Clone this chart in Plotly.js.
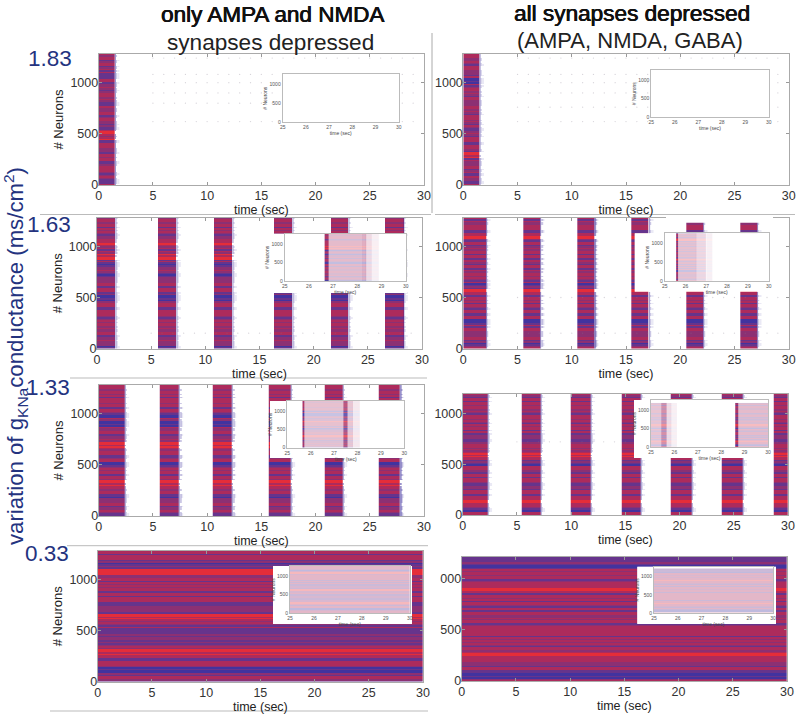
<!DOCTYPE html>
<html><head><meta charset="utf-8">
<script src="https://cdn.plot.ly/plotly-3.0.1.min.js"></script>
<style>html,body{margin:0;padding:0;background:#fff}</style></head>
<body><div id="chart" style="width:797px;height:714px"></div>
<script>
// ---------- data ----------
const panelNames = ['L1','L2','L3','L4','R1','R2','R3','R4'];
const neuronTop = {L1:1280,L2:1280,L3:1280,L4:1280,R1:1280,R2:1280,R3:1190,R4:1220};
// spiking-mix code per population band, top to bottom (0 blue ... 4 red)
const bandsL1=[3,3,2,3,2,3,2,1,2,3,2,3,2,3,3,2,1,3,2,3,3,2,3,2,1,3,4,3,4,1,3,3,2,2,3,3,1,3,3,3,2,3,1,2];
const bandsL2=[3,3,3,3,2,3,2,3,4,3,3,2,4,4,3,0,2,3,2,0,2,3,3,3,3,2,0,0,3,3,2,3,3,3,2,3,3,2,3,3,2,3,2,0];
const bandsL3=[3,3,3,3,2,3,3,2,3,2,0,2,0,0,3,3,3,2,3,4,4,3,3,3,2,3,0,2,3,3,2,3,4,4,3,3,3,0,2,3,3,2,3,1];
const bandsL4=[3,3,3,2,0,2,4,4,3,3,3,2,3,3,3,2,3,2,1,2,3,4,4,3,2,2,1,1,1,2,1,2,3,4,4,3,2,3,2,0,0,2,3,2];
const bandsR1=[3,3,3,2,3,3,2,3,0,0,3,3,2,3,3,3,2,3,3,2,3,3,3,2,3,1,3,2,3,2,3,3,2,4,4,3,2,3,3,2,1,3,1,3];
const bandsR2=[3,2,3,3,2,3,4,3,3,2,3,3,2,3,3,1,3,2,3,3,2,3,0,3,4,3,2,3,3,3,2,3,1,3,0,0,3,3,2,3,3,2,0,3];
const bandsR3=[3,3,2,3,3,3,2,3,3,3,2,3,3,2,1,2,1,2,3,3,2,4,4,3,2,0,3,3,2,3,3,3,2,1,2,3,2,3,4,4,3,2,0,3];
const bandsR4=[1,1,1,0,2,3,3,3,2,3,4,4,3,2,3,3,3,2,3,3,2,3,3,3,2,3,4,3,3,2,3,2,3,3,4,4,3,2,3,3,1,0,0,3];
const bands={L1:bandsL1,L2:bandsL2,L3:bandsL3,L4:bandsL4,R1:bandsR1,R2:bandsR2,R3:bandsR3,R4:bandsR4};
// thin-stripe correction inside each band, two entries per band
const stripeDetail=[0,-1,1,0,-2,0,0,1,-1,0,0,-2,1,-1,0,0,-1,1,0,-2,0,0,1,-1,-2,0,0,1,0,-1,1,0,-1,0,-2,1,0,0,-1,0,1,-2,0,1,0,-1,0,-1,1,0,-2,0,1,0,0,-1,-1,1,0,-2,0,0,1,-1,0,0,-2,1,0,-1,1,0,0,-2,-1,0,1,0,0,-1,-2,0,1,-1,0,0,-1,1];
// burst start / end in seconds
const burstsL1=[[0,1.5]];
const burstsL2=[[0,1.7],[5.6,7.3],[10.8,12.5],[16.3,18],[21.6,23.2],[26.6,28.3]];
const burstsL3=[[0,2.4],[5.6,7.4],[10.5,12.3],[15.7,17.7],[20.8,22.5],[25.8,27.8]];
const burstsL4=[[0,30]];
const burstsR1=[[0,1.5]];
const burstsR2=[[0,2.1],[5.5,7.1],[10.5,12.1],[15.5,17.1],[20.55,22.1],[25.5,27.1]];
const burstsR3=[[0,2.3],[5.4,7.2],[9.95,11.8],[14.65,16.4],[19.15,21.1],[23.9,25.8],[28.65,30]];
const burstsR4=[[0,30]];
const bursts={L1:burstsL1,L2:burstsL2,L3:burstsL3,L4:burstsL4,R1:burstsR1,R2:burstsR2,R3:burstsR3,R4:burstsR4};
// inset (25-30 s) segments: start, end, density
const insetL1=[];
const insetL2=[[26.65,26.8,.9],[26.8,28.2,.3],[28.2,28.35,.36],[28.35,28.6,.17],[28.6,28.9,.07]];
const insetL3=[[25.65,25.75,.9],[25.75,27.4,.28],[27.4,27.55,.75],[27.55,27.8,.26],[27.8,28.1,.1]];
const insetL4=[[25,30,.32]];
const insetR1=[];
const insetR2=[[25.55,25.65,.9],[25.65,26.5,.28],[26.5,27,.18],[27,27.3,.07]];
const insetR3=[[25,25.45,.26],[25.45,25.65,.5],[25.65,25.85,.17],[25.85,26.1,.07],[28.6,28.72,.9],[28.72,30,.3]];
const insetR4=[[25,30,.32]];
const insets={L1:insetL1,L2:insetL2,L3:insetL3,L4:insetL4,R1:insetR1,R2:insetR2,R3:insetR3,R4:insetR4};
// sparse isolated spikes
const sparseTimes=[5,6,7,8,9,10,11,12,13,14,15,16,17,18,19,20,21,22,23,24,25,26,27,28,29];
const sparseRows={L1:[1240,1080,1000,900,800,620],R1:[1240,1080,1000,900,760,620],L2:[150],R2:[500,150],L3:[],L4:[],R3:[720],R4:[]};
const xTicks=[0,5,10,15,20,25,30], yTicks=[0,500,1000];
const insetXTicks=[25,26,27,28,29,30];

// ---------- layout geometry (pixels) ----------
const W=797,H=714;
const mainBox={L1:[98.7,424,54,185],L2:[97,422,218,348.5],L3:[98.7,424,385,516],L4:[97.7,423,551,681.5],
               R1:[463.3,788.7,54,185],R2:[463.3,788.7,218,348.5],R3:[462.7,788,394,515],R4:[461.7,787,556.5,681]};
const whiteBox={L1:[282,399,74,135],L2:[271,407,233.7,293],L3:[270,405,401,458],L4:[273,412,566,624],
                R1:[651,769,70,128],R2:[634.7,769,233.3,291.7],R3:[634,770,400,458],R4:[637.3,776,566.7,624]};
const insetBox={L1:[282.7,398.7,74,122.3],L2:[284.7,405.7,233.7,281],L3:[287.3,404.3,401,447.7],L4:[290,409.7,566,613.3],
                R1:[651.3,768.7,70,117.3],R2:[664.7,768.7,233.3,281],R3:[651,768,400,447],R4:[654,773,566.7,613]};
const dx=b=>[b[0]/W,b[1]/W], dy=b=>[1-b[3]/H,1-b[2]/H];
const colors=[[0,'#38299a'],[.25,'#5e2a86'],[.5,'#86256c'],[.75,'#a92054'],[1,'#e4222f']];
const FONT='"Liberation Sans",Arial,sans-serif';

const traces=[], layout={width:W,height:H,margin:{l:0,r:0,t:0,b:0},paper_bgcolor:'#fff',plot_bgcolor:'#fff',
  showlegend:false,shapes:[],annotations:[]};

function ref(id){return {xaxis:'x'+id,yaxis:'y'+id};}
function addAxes(id,box,xo,yo){layout['xaxis'+id]=Object.assign({domain:dx(box),anchor:'y'+id},xo);
  layout['yaxis'+id]=Object.assign({domain:dy(box),anchor:'x'+id},yo);}
function yEdges(top,n){const e=[];for(let i=0;i<=n;i++)e.push(top*i/n);return e;}
function rowsOf(name,i){
  const out=[];const n=stripeDetail.length;
  bands[name].forEach((v,j)=>{for(let k=0;k<2;k++){
    const d=stripeDetail[(2*j+k+i*13)%n];
    // red stays only in red bands, deep blue only in blue bands
    let c;
    if(v===4) c=d<0?3:4;
    else if(v===0) c=d>0?1:0;
    else c=Math.max(1,Math.min(3,v+d));
    out.push(c);}});
  return out.reverse();
}
function raster(id,name,idx,segs,op,mapV){
  const rows=rowsOf(name,idx),x=[];
  segs.forEach(s=>{x.push(s[0],s[1]);});
  const z=rows.map(v=>{const r=[];segs.forEach((s,i)=>{r.push(mapV(v));if(i<segs.length-1)r.push(null);});return r;});
  traces.push(Object.assign({type:'heatmap',x:x,y:yEdges(neuronTop[name],rows.length),z:z,zmin:0,zmax:4,
    colorscale:colors,showscale:false,hoverinfo:'skip',opacity:op},ref(id)));
}
function mask(id){traces.push(Object.assign({type:'heatmap',x:[0,1],y:[0,1],z:[[0]],zmin:0,zmax:1,
  colorscale:[[0,'#fff'],[1,'#fff']],showscale:false,hoverinfo:'skip'},ref(id)));}
const fadeSteps=[[0,.1,.5,3],[.1,.22,.26,2],[.22,.4,.1,1]];

panelNames.forEach((name,i)=>{
  const id=i+1,left=name[0]==='L';
  const labels=(name==='R4')?['0','500','000']:yTicks.map(String);
  const yo={range:[0,neuronTop[name]],tickmode:'array',tickvals:yTicks,ticktext:labels,ticks:'inside',ticklen:3,tickcolor:'#999',
     ticklabelstandoff:-3,linecolor:'#aaa',linewidth:1,mirror:'ticks',showgrid:false,zeroline:false,tickfont:{family:FONT,size:12.5,color:'#333'}};
  if(left) yo.title={text:'# Neurons',font:{family:FONT,size:13,color:'#222'},standoff:3};
  addAxes(id,mainBox[name],
    {range:[0,30],tickmode:'array',tickvals:xTicks,ticktext:xTicks.map(String),ticks:'inside',ticklen:3,tickcolor:'#999',
     ticklabelstandoff:-1,linecolor:'#aaa',linewidth:1,mirror:'ticks',showgrid:false,zeroline:false,tickfont:{family:FONT,size:12.5,color:'#333'},
     title:{text:'time (sec)',font:{family:FONT,size:12.5,color:'#222'},standoff:0}},yo);
  raster(id,name,i,bursts[name],.95,v=>v);
  if(bursts[name][0][1]<30){
    fadeSteps.forEach(f=>{
      const segs=bursts[name].map(b=>[b[1]+f[0],Math.min(30,b[1]+f[1])]).filter(s=>s[0]<30);
      raster(id,name,i,segs,f[2],v=>v<=f[3]?0:null);
    });
  }
  const rows=sparseRows[name];
  if(rows.length){const xs=[],ys=[];rows.forEach(r=>sparseTimes.forEach(t=>{xs.push(t);ys.push(r);}));
    traces.push(Object.assign({type:'scatter',mode:'markers',x:xs,y:ys,marker:{size:1.3,color:'rgba(130,120,140,.32)'},hoverinfo:'skip'},ref(id)));}
  // white backing
  const bid=8+id;
  addAxes(bid,whiteBox[name],{visible:false,range:[0,1]},{visible:false,range:[0,1]});
  mask(bid);
  // inset
  const iid=16+id;
  addAxes(iid,insetBox[name],
    {range:[25,30],tickmode:'array',tickvals:insetXTicks,ticktext:insetXTicks.map(String),ticks:'',linecolor:'#bbb',linewidth:1,mirror:true,
     showgrid:false,zeroline:false,tickfont:{family:FONT,size:5,color:'#555'},
     title:{text:'time (sec)',font:{family:FONT,size:5,color:'#444'},standoff:0}},
    {range:[0,1270],tickmode:'array',tickvals:yTicks,ticktext:yTicks.map(String),ticks:'',linecolor:'#bbb',linewidth:1,mirror:true,
     showgrid:false,zeroline:false,tickfont:{family:FONT,size:5,color:'#555'},
     title:{text:'# Neurons',font:{family:FONT,size:5,color:'#444'},standoff:1}});
  if(insets[name].length){insets[name].forEach(s=>raster(iid,name,i,[[s[0],s[1]]],s[2],v=>v));}
  else traces.push(Object.assign({type:'scatter',mode:'markers',x:[26],y:[-500],hoverinfo:'skip'},ref(iid)));
});
// notch above the R2 inset
addAxes(25,[666,773,215,222.5],{visible:false,range:[0,1]},{visible:false,range:[0,1]});
mask(25);

// separators
[[40,431,214.5],[435,795,214.5],[70,427,378],[67,428,545.7],[50,428,711]].forEach(l=>layout.shapes.push({type:'line',xref:'paper',yref:'paper',
  x0:l[0]/W,x1:l[1]/W,y0:1-l[2]/H,y1:1-l[2]/H,line:{color:'#bbb',width:1}}));
layout.shapes.push({type:'line',xref:'paper',yref:'paper',x0:432/W,x1:432/W,y0:1-33/H,y1:1-213/H,line:{color:'#aaa',width:1}});

function note(text,x,y,size,color,extra){layout.annotations.push(Object.assign({text:text,xref:'paper',yref:'paper',x:x/W,y:1-y/H,
  xanchor:'center',yanchor:'middle',showarrow:false,font:{family:FONT,size:size,color:color}},extra||{}));}
const FAUX='0.4px 0 0 #111, -0.3px 0 0 #111';
note('only AMPA and NMDA',272,14,22.5,'#111');
layout.annotations[0].font.shadow=FAUX;
note('synapses depressed',270,42,22.6,'#222');
note('all synapses depressed',632,13,22.6,'#111');
layout.annotations[2].font.shadow=FAUX;
note('(AMPA, NMDA, GABA)',630,40,22,'#222');
const BLUE='#24337f';
note('1.83',50,58,22.5,BLUE);note('1.63',49,224,22.5,BLUE);note('1.33',48,387,22.5,BLUE);note('0.33',47,553,22.5,BLUE);
note('variation of g<sub>KNa</sub>conductance (ms/cm<sup>2</sup>)',15,356,22.2,BLUE,{textangle:-90});

Plotly.newPlot('chart',traces,layout,{displayModeBar:false,responsive:false});
</script></body></html>
